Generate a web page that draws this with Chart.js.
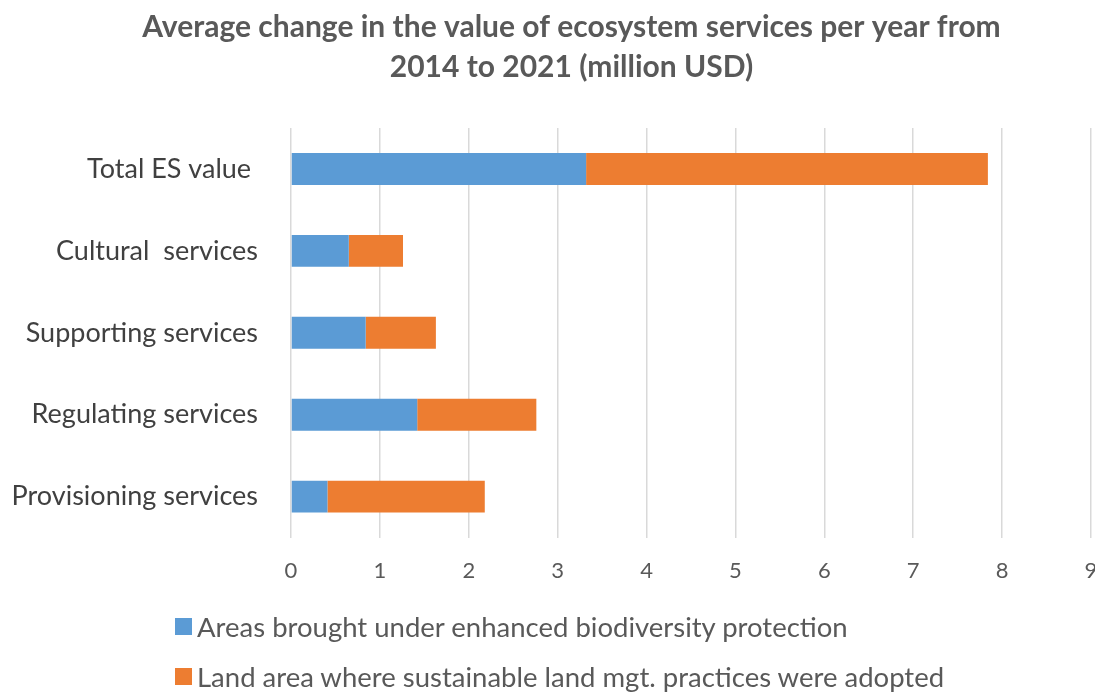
<!DOCTYPE html>
<html>
<head>
<meta charset="utf-8">
<script src="https://cdn.jsdelivr.net/npm/chart.js@4/dist/chart.umd.min.js"></script>
<style>
  html, body { margin: 0; padding: 0; background: #fff; overflow: hidden; }
  #wrap { position: relative; width: 1095px; height: 692px; }
  #legend { position: absolute; left: 175px; top: 601px; font-family: Lato, "Open Sans", sans-serif; font-size: 27.5px; color: #595959; }
  .item { display: flex; align-items: center; height: 50px; }
  .box { width: 17px; height: 17px; margin-right: 5px; }
</style>
</head>
<body>
<div id="wrap">
  <canvas id="c" width="1095" height="692"></canvas>
  <div id="legend"></div>
</div>
<script>
const categories = ["Total ES value ", "Cultural  services", "Supporting services", "Regulating services", "Provisioning services"];
const seriesNames = ["Areas brought under enhanced biodiversity protection", "Land area where sustainable land mgt. practices were adopted"];
const biodiversityValues = [3.32, 0.65, 0.84, 1.42, 0.41];
const landMgtValues = [4.52, 0.61, 0.79, 1.34, 1.77];
const xTicks = [0, 1, 2, 3, 4, 5, 6, 7, 8, 9];
const titleLines = ["Average change in the value of ecosystem services per year from", "2014 to 2021 (million USD)"];
const colors = ["#5B9BD5", "#ED7D31"];

const shiftTitle = {
  id: 'shiftTitle',
  afterLayout(chart) {
    if (chart.titleBlock) { chart.titleBlock.left = 48; }
  }
};

const chart = new Chart(document.getElementById('c'), {
  type: 'bar',
  data: {
    labels: categories,
    datasets: [
      { label: seriesNames[0], data: biodiversityValues, backgroundColor: colors[0], barPercentage: 0.39, categoryPercentage: 1 },
      { label: seriesNames[1], data: landMgtValues, backgroundColor: colors[1], barPercentage: 0.39, categoryPercentage: 1 }
    ]
  },
  plugins: [shiftTitle],
  options: {
    indexAxis: 'y',
    responsive: false,
    animation: false,
    layout: { padding: { left: 0, right: 0, top: 7, bottom: 88 } },
    plugins: {
      legend: { display: false },
      tooltip: { enabled: false },
      title: {
        display: true,
        text: titleLines,
        color: '#595959',
        font: { family: 'Lato, "Open Sans", sans-serif', size: 30, weight: 'bold', lineHeight: 1.35 },
        padding: { top: 0, bottom: 40 }
      }
    },
    scales: {
      x: {
        stacked: true,
        min: 0, max: 9,
        afterBuildTicks: (s) => { s.ticks = xTicks.map(v => ({ value: v })); },
        grid: { color: '#D9D9D9', lineWidth: 1.5, drawTicks: false },
        border: { display: false },
        ticks: { color: '#595959', font: { family: 'Lato, "Open Sans", sans-serif', size: 22 }, padding: 20, maxRotation: 0 },
        afterFit: (s) => { s.paddingRight = 4; s.paddingLeft = 0; }
      },
      y: {
        stacked: true,
        grid: { display: false },
        border: { display: false },
        ticks: { color: '#404040', font: { family: 'Lato, "Open Sans", sans-serif', size: 27 }, padding: 25 },
        afterFit: (s) => { s.width = 291; }
      }
    }
  }
});

const legend = document.getElementById('legend');
chart.data.datasets.forEach(ds => {
  const it = document.createElement('div');
  it.className = 'item';
  const b = document.createElement('span');
  b.className = 'box';
  b.style.background = ds.backgroundColor;
  const t = document.createElement('span');
  t.textContent = ds.label;
  it.appendChild(b); it.appendChild(t);
  legend.appendChild(it);
});
</script>
</body>
</html>
